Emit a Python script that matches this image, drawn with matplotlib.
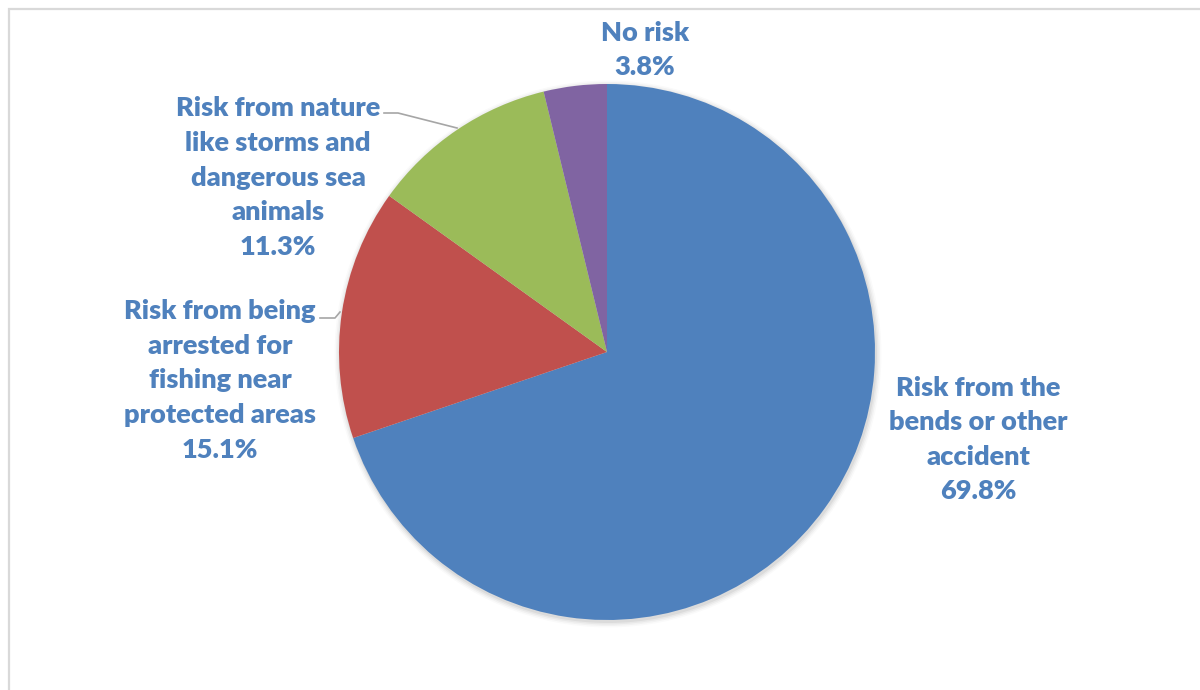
import matplotlib
matplotlib.use("Agg")
import matplotlib.pyplot as plt
from matplotlib.patches import Rectangle, Circle

# ---- data ----
categories = [
    "Risk from the\nbends or other\naccident",
    "Risk from being\narrested for\nfishing near\nprotected areas",
    "Risk from nature\nlike storms and\ndangerous sea\nanimals",
    "No risk",
]
values = [69.8, 15.1, 11.3, 3.8]
colors = ["#4f81bd", "#c0504d", "#9bbb59", "#8064a2"]

W, H = 1200, 690
fig = plt.figure(figsize=(W / 100, H / 100), dpi=100)
ax = fig.add_axes([0, 0, 1, 1])

cx, cy, r = 607, H - 352, 268

# soft shadow around the pie
for i, a in enumerate([0.05, 0.04, 0.03, 0.02]):
    ax.add_patch(Circle((cx + 1, cy - 2), r + 1 + i * 1.5, color="#000000",
                        alpha=a, lw=0, zorder=1))

wedges, _ = ax.pie(values, colors=colors, startangle=90, counterclock=False,
                   center=(cx, cy), radius=r,
                   wedgeprops=dict(linewidth=0, zorder=2))
for w in wedges:
    w.set_zorder(2)

ax.set_xlim(0, W)
ax.set_ylim(0, H)
ax.set_aspect("equal")
ax.axis("off")

# frame
ax.add_patch(Rectangle((8.5, -10), W + 10, H - 8.5 + 10, fill=False,
                       edgecolor="#d9d9d9", lw=1.6, zorder=0))

txt_color = "#4f81bd"
label_pos = [(978, 439.5), (220, 380.5), (278, 177.5), (645, 50)]
for lab, v, (x, y) in zip(categories, values, label_pos):
    ax.text(x, H - y, f"{lab}\n{v:.1f}%", ha="center", va="center",
            color=txt_color, fontsize=19.5, fontweight="heavy",
            family="Lato", linespacing=1.53, zorder=5)

# leader lines
ax.plot([384, 398, 457], [H - 113, H - 113, H - 128], color="#a6a6a6", lw=1.2, zorder=4)
ax.plot([320, 335, 340], [H - 318, H - 318, H - 312], color="#a6a6a6", lw=1.2, zorder=4)

fig.savefig("out.png", dpi=100)
